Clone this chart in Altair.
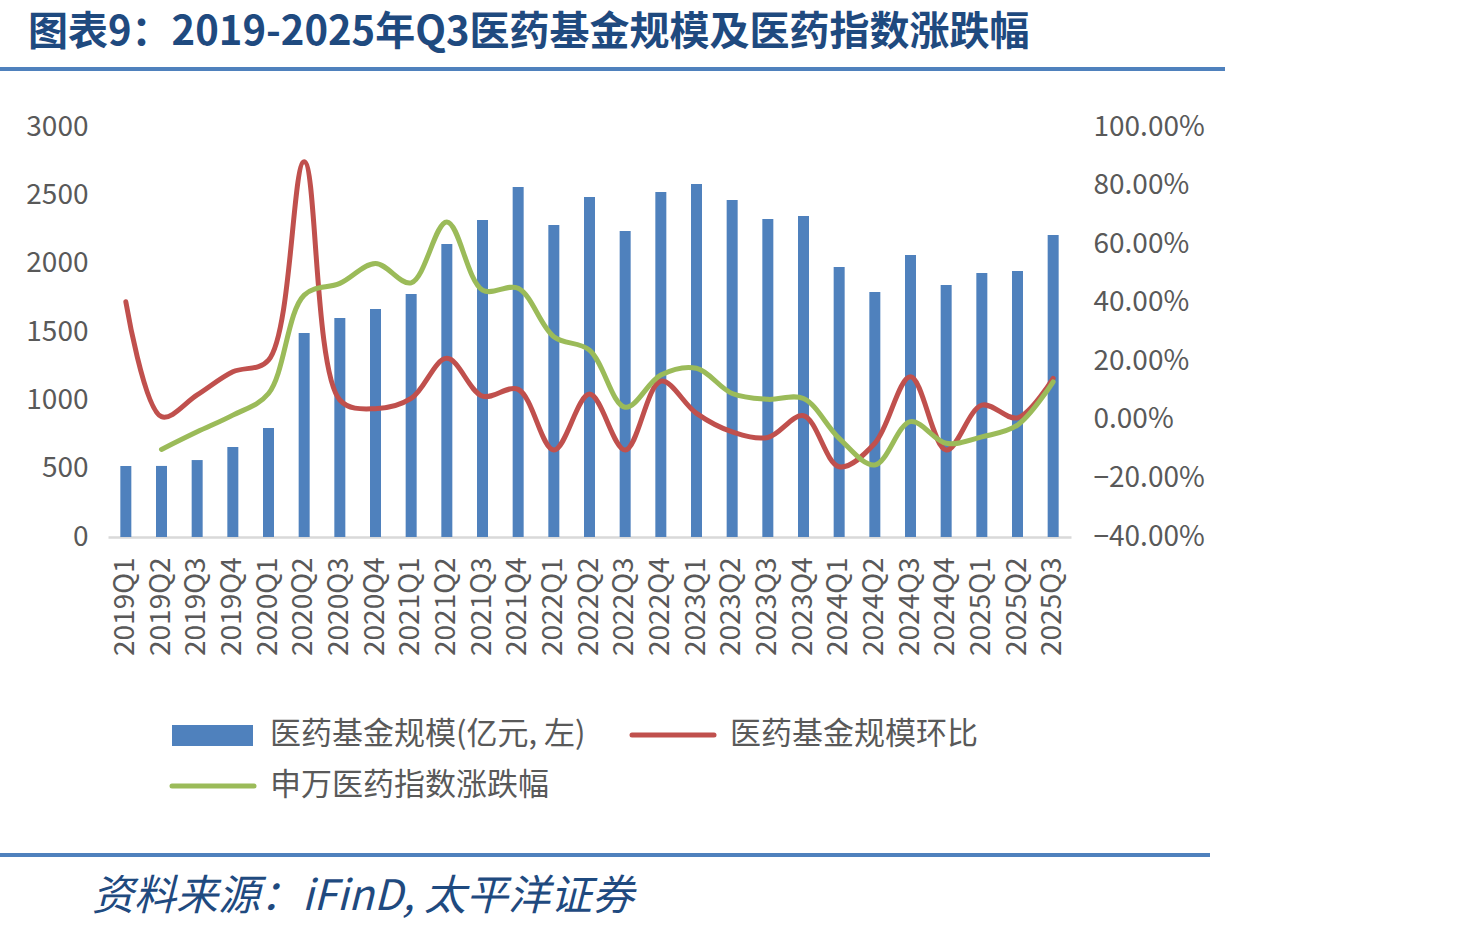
import altair as alt
import pandas as pd

quarters = ["2019Q1", "2019Q2", "2019Q3", "2019Q4", "2020Q1", "2020Q2", "2020Q3", "2020Q4",
            "2021Q1", "2021Q2", "2021Q3", "2021Q4", "2022Q1", "2022Q2", "2022Q3", "2022Q4",
            "2023Q1", "2023Q2", "2023Q3", "2023Q4", "2024Q1", "2024Q2", "2024Q3", "2024Q4",
            "2025Q1", "2025Q2", "2025Q3"]
fund_size = [520, 520, 563, 658, 797, 1493, 1602, 1668, 1778, 2144, 2320, 2561, 2283, 2488,
             2239, 2524, 2583, 2466, 2327, 2349, 1976, 1793, 2063, 1844, 1932, 1946, 2210]
fund_qoq_pct = [40.3, 1.1, 8.5, 16.4, 20.4, 88.1, 6.8, 3.8, 7.3, 21.0, 8.1, 10.4, -10.3, 8.8,
                -10.3, 13.2, 2.2, -4.1, -6.0, 1.4, -16.0, -8.0, 14.7, -10.3, 5.0, 0.7, 14.2]
index_chg_pct = [None, -10.1, -4.1, 1.6, 9.0, 42.6, 46.6, 53.4, 46.8, 67.6, 44.3, 44.9, 28.4, 23.8,
                 4.3, 15.3, 17.6, 9.0, 7.0, 7.3, -6.3, -15.4, -0.6, -8.0, -5.8, -1.8, 13.0]
left_ticks = [0, 500, 1000, 1500, 2000, 2500, 3000]
right_ticks = [-0.4, -0.2, 0.0, 0.2, 0.4, 0.6, 0.8, 1.0]
series_names = ["医药基金规模(亿元, 左)", "医药基金规模环比", "申万医药指数涨跌幅"]
title_text = "图表9：2019-2025年Q3医药基金规模及医药指数涨跌幅"
source_text = "资料来源：iFinD, 太平洋证券"

BLUE = "#4F81BD"
RED = "#C0504D"
GREEN = "#9BBB59"
DARK = "#1F4A7F"
GREY = "#595959"
FONT = "Noto Sans CJK SC"

bar_df = pd.DataFrame({"q": quarters, "size": fund_size})
rows = []
for q, v in zip(quarters, fund_qoq_pct):
    rows.append({"q": q, "s": series_names[1], "v": v / 100})
for q, v in zip(quarters, index_chg_pct):
    if v is not None:
        rows.append({"q": q, "s": series_names[2], "v": v / 100})
line_df = pd.DataFrame(rows)

xenc = alt.X("q:N", sort=quarters,
             scale=alt.Scale(paddingInner=0, paddingOuter=0),
             axis=alt.Axis(title=None, labelAngle=270, labelFontSize=28, labelColor=GREY,
                           labelFont=FONT, labelPadding=20, ticks=False, domainColor="#D9D9D9",
                           domainWidth=2.5, grid=False))

bars = alt.Chart(bar_df).mark_bar(size=11, color=BLUE).encode(
    x=xenc,
    y=alt.Y("size:Q", scale=alt.Scale(domain=[0, 3000], nice=False),
            axis=alt.Axis(title=None, orient="left", values=left_ticks, format="d", domain=False,
                          ticks=False, grid=False, labelFontSize=28, labelColor=GREY,
                          labelFont=FONT, labelPadding=20)),
)

lines = alt.Chart(line_df).mark_line(interpolate="catmull-rom", strokeWidth=5, strokeCap="round").encode(
    x=alt.X("q:N", sort=quarters),
    y=alt.Y("v:Q", scale=alt.Scale(domain=[-0.4, 1.0], nice=False),
            axis=alt.Axis(title=None, orient="right", values=right_ticks, format=".2%",
                          domain=False, ticks=False, grid=False, labelFontSize=28,
                          labelColor=GREY, labelFont=FONT, labelPadding=22)),
    color=alt.Color("s:N", scale=alt.Scale(domain=series_names[1:], range=[RED, GREEN]), legend=None),
)


def text_layer(txt, x, y, size, color, italic=False, bold=False):
    df = pd.DataFrame({"t": [txt]})
    kw = dict(align="left", baseline="middle", fontSize=size, color=color, font=FONT)
    if italic:
        kw["fontStyle"] = "italic"
    if bold:
        kw["fontWeight"] = "bold"
    return alt.Chart(df).mark_text(**kw).encode(text="t:N", x=alt.value(x), y=alt.value(y))


def rule_layer(x1, x2, y, color, width, cap="butt"):
    df = pd.DataFrame({"a": [0]})
    return alt.Chart(df).mark_rule(color=color, strokeWidth=width, strokeCap=cap).encode(
        x=alt.value(x1), x2=alt.value(x2), y=alt.value(y))


rect_df = pd.DataFrame({"a": [0]})
legend_rect = alt.Chart(rect_df).mark_rect(color=BLUE).encode(
    x=alt.value(64), x2=alt.value(145), y=alt.value(598), y2=alt.value(619))

deco = [
    text_layer(title_text, -80, -94, 40, DARK, bold=True),
    rule_layer(-108, 1117, -58, BLUE, 4),
    rule_layer(-108, 1102, 728, BLUE, 4),
    text_layer(source_text, -16, 770, 42, DARK, italic=True),
    legend_rect,
    text_layer(series_names[0], 162, 608, 31, GREY),
    rule_layer(524, 606, 608, RED, 5, "round"),
    text_layer(series_names[1], 622, 608, 31, GREY),
    rule_layer(64, 146, 659, GREEN, 5, "round"),
    text_layer(series_names[2], 162, 659, 31, GREY),
]

chart = alt.layer(bars, lines, *deco).resolve_scale(y="independent").properties(
    width=963, height=410,
    padding={"left": 108, "top": 127, "right": 388, "bottom": 395},
    autosize=alt.AutoSizeParams(type="none"),
).configure_view(strokeWidth=0)

chart.save("out.html", embed_options={"renderer": "svg", "actions": False})
